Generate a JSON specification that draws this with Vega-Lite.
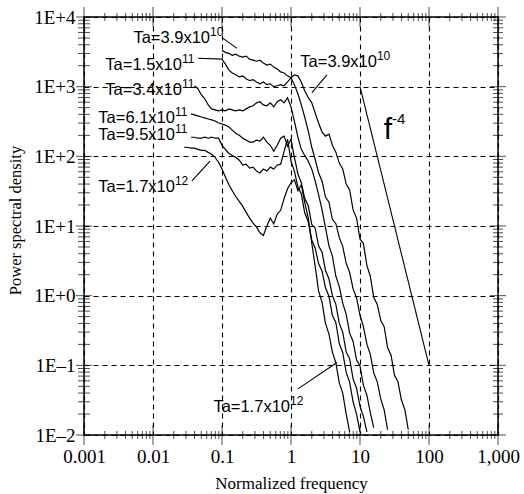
{
  "$schema": "https://vega.github.io/schema/vega-lite/v6.json",
  "width": 414,
  "height": 418,
  "autosize": {"type": "none"},
  "padding": {"left": 84, "top": 17, "right": 26, "bottom": 59},
  "background": "white",
  "config": {
    "view": {"stroke": "black", "strokeWidth": 1.5},
    "axis": {
      "domainColor": "black", "domainWidth": 1.5, "tickColor": "black", "tickWidth": 1,
      "labelColor": "black", "titleColor": "black",
      "labelFont": "Liberation Serif", "labelFontSize": 19,
      "titleFont": "Liberation Serif", "titleFontSize": 17, "titleFontWeight": "normal"
    },
    "tick": {"thickness": 1, "color": "black"}
  },
  "datasets": {
    "curves": [
      {"s":"A","x":0.1,"y":3320},{"s":"A","x":0.112,"y":3110},{"s":"A","x":0.126,"y":3010},{"s":"A","x":0.141,"y":2820},{"s":"A","x":0.158,"y":2920},{"s":"A","x":0.178,"y":2740},{"s":"A","x":0.2,"y":2650},{"s":"A","x":0.224,"y":2740},{"s":"A","x":0.251,"y":2480},{"s":"A","x":0.282,"y":2400},{"s":"A","x":0.316,"y":2320},{"s":"A","x":0.355,"y":2400},{"s":"A","x":0.398,"y":2180},{"s":"A","x":0.447,"y":2040},{"s":"A","x":0.501,"y":2110},{"s":"A","x":0.562,"y":1910},{"s":"A","x":0.631,"y":1790},{"s":"A","x":0.708,"y":1630},{"s":"A","x":0.794,"y":1570},{"s":"A","x":0.891,"y":1430},{"s":"A","x":1,"y":1340},{"s":"A","x":1.12,"y":1480},{"s":"A","x":1.26,"y":1430},{"s":"A","x":1.41,"y":1170},{"s":"A","x":1.58,"y":875},{"s":"A","x":1.78,"y":693},{"s":"A","x":2.0,"y":586},{"s":"A","x":2.24,"y":420},{"s":"A","x":2.51,"y":301},{"s":"A","x":2.82,"y":223},{"s":"A","x":3.16,"y":195},{"s":"A","x":3.55,"y":208},{"s":"A","x":3.98,"y":144},{"s":"A","x":4.47,"y":115},{"s":"A","x":5.01,"y":80},{"s":"A","x":5.62,"y":66},{"s":"A","x":6.31,"y":40},{"s":"A","x":7.08,"y":33},{"s":"A","x":7.94,"y":17},{"s":"A","x":8.91,"y":13},{"s":"A","x":10,"y":6.5},{"s":"A","x":11.2,"y":5.6},{"s":"A","x":12.6,"y":2.7},{"s":"A","x":14.1,"y":1.9},{"s":"A","x":15.8,"y":0.95},{"s":"A","x":17.8,"y":0.75},{"s":"A","x":20,"y":0.44},{"s":"A","x":22.4,"y":0.36},{"s":"A","x":25.1,"y":0.18},{"s":"A","x":28.2,"y":0.14},{"s":"A","x":31.6,"y":0.072},{"s":"A","x":35.5,"y":0.058},{"s":"A","x":39.8,"y":0.032},{"s":"A","x":44.7,"y":0.023},{"s":"A","x":50.1,"y":0.0119},
      {"s":"B","x":0.0449,"y":2560},{"s":"B","x":0.1,"y":2480},{"s":"B","x":0.112,"y":2110},{"s":"B","x":0.126,"y":1730},{"s":"B","x":0.141,"y":1570},{"s":"B","x":0.158,"y":1480},{"s":"B","x":0.178,"y":1380},{"s":"B","x":0.2,"y":1430},{"s":"B","x":0.224,"y":1300},{"s":"B","x":0.251,"y":1220},{"s":"B","x":0.282,"y":1260},{"s":"B","x":0.316,"y":1170},{"s":"B","x":0.355,"y":1100},{"s":"B","x":0.398,"y":1170},{"s":"B","x":0.447,"y":1070},{"s":"B","x":0.501,"y":1100},{"s":"B","x":0.562,"y":1000},{"s":"B","x":0.631,"y":1030},{"s":"B","x":0.708,"y":1070},{"s":"B","x":0.794,"y":1030},{"s":"B","x":0.891,"y":1170},{"s":"B","x":1,"y":1340},{"s":"B","x":1.12,"y":1070},{"s":"B","x":1.26,"y":792},{"s":"B","x":1.41,"y":548},{"s":"B","x":1.58,"y":367},{"s":"B","x":1.78,"y":230},{"s":"B","x":2.0,"y":135},{"s":"B","x":2.24,"y":90.8},{"s":"B","x":2.51,"y":58},{"s":"B","x":2.82,"y":44},{"s":"B","x":3.16,"y":26},{"s":"B","x":3.55,"y":22},{"s":"B","x":3.98,"y":12.5},{"s":"B","x":4.47,"y":10.8},{"s":"B","x":5.01,"y":6.8},{"s":"B","x":5.62,"y":5.1},{"s":"B","x":6.31,"y":2.9},{"s":"B","x":7.08,"y":2.15},{"s":"B","x":7.94,"y":1.25},{"s":"B","x":8.91,"y":0.93},{"s":"B","x":10,"y":0.52},{"s":"B","x":11.2,"y":0.36},{"s":"B","x":12.6,"y":0.2},{"s":"B","x":14.1,"y":0.145},{"s":"B","x":15.8,"y":0.078},{"s":"B","x":17.8,"y":0.058},{"s":"B","x":20,"y":0.033},{"s":"B","x":22.4,"y":0.023},{"s":"B","x":25.1,"y":0.0119},
      {"s":"C","x":0.0398,"y":1030},{"s":"C","x":0.0447,"y":936},{"s":"C","x":0.0501,"y":766},{"s":"C","x":0.0562,"y":670},{"s":"C","x":0.0631,"y":548},{"s":"C","x":0.0708,"y":480},{"s":"C","x":0.0794,"y":464},{"s":"C","x":0.0891,"y":449},{"s":"C","x":0.1,"y":464},{"s":"C","x":0.112,"y":449},{"s":"C","x":0.126,"y":480},{"s":"C","x":0.141,"y":464},{"s":"C","x":0.158,"y":449},{"s":"C","x":0.178,"y":464},{"s":"C","x":0.2,"y":449},{"s":"C","x":0.224,"y":480},{"s":"C","x":0.251,"y":513},{"s":"C","x":0.282,"y":531},{"s":"C","x":0.316,"y":586},{"s":"C","x":0.355,"y":607},{"s":"C","x":0.398,"y":548},{"s":"C","x":0.447,"y":531},{"s":"C","x":0.501,"y":586},{"s":"C","x":0.562,"y":513},{"s":"C","x":0.631,"y":607},{"s":"C","x":0.708,"y":649},{"s":"C","x":0.794,"y":586},{"s":"C","x":0.891,"y":693},{"s":"C","x":1,"y":513},{"s":"C","x":1.12,"y":321},{"s":"C","x":1.26,"y":188},{"s":"C","x":1.41,"y":126},{"s":"C","x":1.58,"y":103},{"s":"C","x":1.78,"y":85.1},{"s":"C","x":2.0,"y":65.6},{"s":"C","x":2.24,"y":44.5},{"s":"C","x":2.51,"y":28.2},{"s":"C","x":2.82,"y":17},{"s":"C","x":3.16,"y":9.5},{"s":"C","x":3.55,"y":5.2},{"s":"C","x":3.98,"y":3.7},{"s":"C","x":4.47,"y":1.9},{"s":"C","x":5.01,"y":1.35},{"s":"C","x":5.62,"y":0.78},{"s":"C","x":6.31,"y":0.54},{"s":"C","x":7.08,"y":0.29},{"s":"C","x":7.94,"y":0.22},{"s":"C","x":8.91,"y":0.12},{"s":"C","x":10,"y":0.098},{"s":"C","x":11.2,"y":0.052},{"s":"C","x":12.6,"y":0.037},{"s":"C","x":14.1,"y":0.021},{"s":"C","x":15.8,"y":0.0128},
      {"s":"D","x":0.0355,"y":406},{"s":"D","x":0.0398,"y":393},{"s":"D","x":0.0447,"y":380},{"s":"D","x":0.0501,"y":367},{"s":"D","x":0.0562,"y":356},{"s":"D","x":0.0631,"y":344},{"s":"D","x":0.0708,"y":333},{"s":"D","x":0.0794,"y":321},{"s":"D","x":0.0891,"y":301},{"s":"D","x":0.1,"y":291},{"s":"D","x":0.112,"y":281},{"s":"D","x":0.126,"y":263},{"s":"D","x":0.141,"y":238},{"s":"D","x":0.158,"y":215},{"s":"D","x":0.178,"y":201},{"s":"D","x":0.2,"y":182},{"s":"D","x":0.224,"y":171},{"s":"D","x":0.251,"y":160},{"s":"D","x":0.282,"y":160},{"s":"D","x":0.316,"y":171},{"s":"D","x":0.355,"y":165},{"s":"D","x":0.398,"y":188},{"s":"D","x":0.447,"y":160},{"s":"D","x":0.501,"y":144},{"s":"D","x":0.562,"y":118},{"s":"D","x":0.631,"y":144},{"s":"D","x":0.708,"y":182},{"s":"D","x":0.794,"y":195},{"s":"D","x":0.891,"y":140},{"s":"D","x":1,"y":176},{"s":"D","x":1.12,"y":96.8},{"s":"D","x":1.26,"y":55.7},{"s":"D","x":1.41,"y":42},{"s":"D","x":1.58,"y":25},{"s":"D","x":1.78,"y":19.5},{"s":"D","x":2.0,"y":10.5},{"s":"D","x":2.24,"y":9.3},{"s":"D","x":2.51,"y":5.2},{"s":"D","x":2.82,"y":4.2},{"s":"D","x":3.16,"y":2.3},{"s":"D","x":3.55,"y":1.75},{"s":"D","x":3.98,"y":1.0},{"s":"D","x":4.47,"y":0.75},{"s":"D","x":5.01,"y":0.4},{"s":"D","x":5.62,"y":0.3},{"s":"D","x":6.31,"y":0.155},{"s":"D","x":7.08,"y":0.125},{"s":"D","x":7.94,"y":0.064},{"s":"D","x":8.91,"y":0.047},{"s":"D","x":10,"y":0.026},{"s":"D","x":11.2,"y":0.0185},{"s":"D","x":12.6,"y":0.0111},
      {"s":"E","x":0.0355,"y":188},{"s":"E","x":0.0398,"y":188},{"s":"E","x":0.0447,"y":182},{"s":"E","x":0.0501,"y":182},{"s":"E","x":0.0562,"y":188},{"s":"E","x":0.0631,"y":182},{"s":"E","x":0.0708,"y":188},{"s":"E","x":0.0794,"y":182},{"s":"E","x":0.0891,"y":182},{"s":"E","x":0.1,"y":144},{"s":"E","x":0.112,"y":126},{"s":"E","x":0.126,"y":110},{"s":"E","x":0.141,"y":103},{"s":"E","x":0.158,"y":96.8},{"s":"E","x":0.178,"y":87.9},{"s":"E","x":0.2,"y":74.7},{"s":"E","x":0.224,"y":77.1},{"s":"E","x":0.251,"y":67.8},{"s":"E","x":0.282,"y":70.0},{"s":"E","x":0.316,"y":61.5},{"s":"E","x":0.355,"y":57.7},{"s":"E","x":0.398,"y":65.6},{"s":"E","x":0.447,"y":61.5},{"s":"E","x":0.501,"y":70.0},{"s":"E","x":0.562,"y":65.6},{"s":"E","x":0.631,"y":74.7},{"s":"E","x":0.708,"y":77.1},{"s":"E","x":0.794,"y":118},{"s":"E","x":0.891,"y":176},{"s":"E","x":1,"y":85.1},{"s":"E","x":1.12,"y":61.5},{"s":"E","x":1.26,"y":36},{"s":"E","x":1.41,"y":29},{"s":"E","x":1.58,"y":15.5},{"s":"E","x":1.78,"y":11.5},{"s":"E","x":2.0,"y":6.3},{"s":"E","x":2.24,"y":4.8},{"s":"E","x":2.51,"y":2.9},{"s":"E","x":2.82,"y":2.25},{"s":"E","x":3.16,"y":1.3},{"s":"E","x":3.55,"y":0.98},{"s":"E","x":3.98,"y":0.52},{"s":"E","x":4.47,"y":0.41},{"s":"E","x":5.01,"y":0.205},{"s":"E","x":5.62,"y":0.152},{"s":"E","x":6.31,"y":0.079},{"s":"E","x":7.08,"y":0.057},{"s":"E","x":7.94,"y":0.03},{"s":"E","x":8.91,"y":0.02},{"s":"E","x":10,"y":0.0111},
      {"s":"F","x":0.0282,"y":135},{"s":"F","x":0.0316,"y":135},{"s":"F","x":0.0355,"y":131},{"s":"F","x":0.0398,"y":131},{"s":"F","x":0.0447,"y":126},{"s":"F","x":0.0501,"y":122},{"s":"F","x":0.0562,"y":122},{"s":"F","x":0.0631,"y":114},{"s":"F","x":0.0708,"y":107},{"s":"F","x":0.0794,"y":96.8},{"s":"F","x":0.0891,"y":82.2},{"s":"F","x":0.1,"y":65.6},{"s":"F","x":0.112,"y":50.6},{"s":"F","x":0.126,"y":39.1},{"s":"F","x":0.141,"y":32.1},{"s":"F","x":0.158,"y":26.5},{"s":"F","x":0.178,"y":22.5},{"s":"F","x":0.2,"y":19.1},{"s":"F","x":0.224,"y":15.7},{"s":"F","x":0.251,"y":13.0},{"s":"F","x":0.282,"y":11.0},{"s":"F","x":0.316,"y":9.69},{"s":"F","x":0.355,"y":8.0},{"s":"F","x":0.398,"y":7.3},{"s":"F","x":0.447,"y":10.0},{"s":"F","x":0.501,"y":13.0},{"s":"F","x":0.562,"y":10.7},{"s":"F","x":0.631,"y":14.8},{"s":"F","x":0.708,"y":16.8},{"s":"F","x":0.794,"y":24.8},{"s":"F","x":0.891,"y":34.3},{"s":"F","x":1,"y":41.7},{"s":"F","x":1.12,"y":45.9},{"s":"F","x":1.26,"y":32.1},{"s":"F","x":1.41,"y":39.1},{"s":"F","x":1.58,"y":21.8},{"s":"F","x":1.78,"y":13.0},{"s":"F","x":2.0,"y":5.66},{"s":"F","x":2.24,"y":2.66},{"s":"F","x":2.51,"y":1.17},{"s":"F","x":2.82,"y":0.8},{"s":"F","x":3.16,"y":0.4},{"s":"F","x":3.55,"y":0.28},{"s":"F","x":3.98,"y":0.155},{"s":"F","x":4.47,"y":0.108},{"s":"F","x":5.01,"y":0.056},{"s":"F","x":5.62,"y":0.04},{"s":"F","x":6.31,"y":0.02},{"s":"F","x":7.08,"y":0.0111}
    ],
    "slope": [{"x":10,"y":1000},{"x":100,"y":0.1}],
    "leaders": [
      {"x":0.1,"y":5060,"x2":0.165,"y2":3540},
      {"x":0.0367,"y":44.5,"x2":0.067,"y2":85.1},
      {"x":1.26,"y":0.0459,"x2":4.64,"y2":0.11},
      {"x":3.32,"y":1480,"x2":2.01,"y2":819}
    ],
    "labels": [
      {"x":0.067,"y":4980,"base":"Ta=3.9x10","exp":"10"},
      {"x":0.0263,"y":2040,"base":"Ta=1.5x10","exp":"11"},
      {"x":0.0263,"y":905,"base":"Ta=3.4x10","exp":"11"},
      {"x":0.0208,"y":356,"base":"Ta=6.1x10","exp":"11"},
      {"x":0.0208,"y":201,"base":"Ta=9.5x10","exp":"11"},
      {"x":0.0208,"y":36.6,"base":"Ta=1.7x10","exp":"12"},
      {"x":17.6,"y":2250,"base":"Ta=3.9x10","exp":"10"},
      {"x":0.967,"y":0.0251,"base":"Ta=1.7x10","exp":"12"}
    ],
    "flabel": [{"x":29.1,"y":176,"base":"f","exp":"-4"}],
    "xmajor": [{"v":0.001},{"v":0.01},{"v":0.1},{"v":1},{"v":10},{"v":100},{"v":1000}],
    "xminor": [{"v":0.002},{"v":0.003},{"v":0.004},{"v":0.005},{"v":0.006},{"v":0.007},{"v":0.008},{"v":0.009},{"v":0.02},{"v":0.03},{"v":0.04},{"v":0.05},{"v":0.06},{"v":0.07},{"v":0.08},{"v":0.09},{"v":0.2},{"v":0.3},{"v":0.4},{"v":0.5},{"v":0.6},{"v":0.7},{"v":0.8},{"v":0.9},{"v":2},{"v":3},{"v":4},{"v":5},{"v":6},{"v":7},{"v":8},{"v":9},{"v":20},{"v":30},{"v":40},{"v":50},{"v":60},{"v":70},{"v":80},{"v":90},{"v":200},{"v":300},{"v":400},{"v":500},{"v":600},{"v":700},{"v":800},{"v":900}],
    "ymajor": [{"v":0.01},{"v":0.1},{"v":1},{"v":10},{"v":100},{"v":1000},{"v":10000}],
    "yminor": [{"v":0.02},{"v":0.03},{"v":0.04},{"v":0.05},{"v":0.06},{"v":0.07},{"v":0.08},{"v":0.09},{"v":0.2},{"v":0.3},{"v":0.4},{"v":0.5},{"v":0.6},{"v":0.7},{"v":0.8},{"v":0.9},{"v":2},{"v":3},{"v":4},{"v":5},{"v":6},{"v":7},{"v":8},{"v":9},{"v":20},{"v":30},{"v":40},{"v":50},{"v":60},{"v":70},{"v":80},{"v":90},{"v":200},{"v":300},{"v":400},{"v":500},{"v":600},{"v":700},{"v":800},{"v":900},{"v":2000},{"v":3000},{"v":4000},{"v":5000},{"v":6000},{"v":7000},{"v":8000},{"v":9000}]
  },
  "layer": [
    {
      "data": {"name": "curves"},
      "mark": {"type": "line", "color": "black", "strokeWidth": 1.2, "clip": true},
      "encoding": {
        "x": {"field": "x", "type": "quantitative",
          "scale": {"type": "log", "domain": [0.001, 1000], "nice": false},
          "axis": {"orient": "bottom", "title": "Normalized frequency", "titlePadding": 9,
            "values": [0.001,0.01,0.1,1,10,100,1000],
            "labelExpr": "format(datum.value, ',')",
            "labelOverlap": false, "labelFlush": false, "labelBound": false, "labelPadding": 12,
            "ticks": false, "domain": false,
            "grid": true, "gridColor": "black", "gridDash": [5, 4], "gridWidth": 1.1
          }
        },
        "y": {"field": "y", "type": "quantitative",
          "scale": {"type": "log", "domain": [0.01, 10000], "nice": false},
          "axis": {"orient": "left", "title": "Power spectral density", "titleFontSize": 16.5, "titlePadding": 10, "titleY": 203,
            "values": [0.01,0.1,1,10,100,1000,10000],
            "labelExpr": "'1E' + (datum.value >= 1 ? '+' : '–') + abs(round(log(datum.value)/LN10))",
            "labelOverlap": false, "labelFlush": false, "labelBound": false, "labelPadding": 9,
            "ticks": false, "domain": false,
            "grid": true, "gridColor": "black", "gridDash": [5, 4], "gridWidth": 1.1
          }
        },
        "detail": {"field": "s"}
      }
    },
    {
      "data": {"name": "slope"},
      "mark": {"type": "line", "color": "black", "strokeWidth": 1.1},
      "encoding": {
        "x": {"field": "x", "type": "quantitative"},
        "y": {"field": "y", "type": "quantitative"}
      }
    },
    {
      "data": {"name": "leaders"},
      "mark": {"type": "rule", "color": "black", "strokeWidth": 1.1},
      "encoding": {
        "x": {"field": "x", "type": "quantitative"},
        "y": {"field": "y", "type": "quantitative"},
        "x2": {"field": "x2"},
        "y2": {"field": "y2"}
      }
    },
    {
      "data": {"name": "xminor"},
      "mark": {"type": "tick", "orient": "vertical", "size": 8},
      "encoding": {
        "x": {"field": "v", "type": "quantitative"},
        "y": {"datum": 0.01, "type": "quantitative"}
      }
    },
    {
      "data": {"name": "xminor"},
      "mark": {"type": "tick", "orient": "vertical", "size": 8},
      "encoding": {
        "x": {"field": "v", "type": "quantitative"},
        "y": {"datum": 10000, "type": "quantitative"}
      }
    },
    {
      "data": {"name": "xmajor"},
      "mark": {"type": "tick", "orient": "vertical", "size": 20},
      "encoding": {
        "x": {"field": "v", "type": "quantitative"},
        "y": {"datum": 0.01, "type": "quantitative"}
      }
    },
    {
      "data": {"name": "xmajor"},
      "mark": {"type": "tick", "orient": "vertical", "size": 20},
      "encoding": {
        "x": {"field": "v", "type": "quantitative"},
        "y": {"datum": 10000, "type": "quantitative"}
      }
    },
    {
      "data": {"name": "yminor"},
      "mark": {"type": "tick", "orient": "horizontal", "size": 12},
      "encoding": {
        "y": {"field": "v", "type": "quantitative"},
        "x": {"datum": 0.001, "type": "quantitative"}
      }
    },
    {
      "data": {"name": "yminor"},
      "mark": {"type": "tick", "orient": "horizontal", "size": 10},
      "encoding": {
        "y": {"field": "v", "type": "quantitative"},
        "x": {"datum": 1000, "type": "quantitative"}
      }
    },
    {
      "data": {"name": "ymajor"},
      "mark": {"type": "tick", "orient": "horizontal", "size": 16},
      "encoding": {
        "y": {"field": "v", "type": "quantitative"},
        "x": {"datum": 0.001, "type": "quantitative"}
      }
    },
    {
      "data": {"name": "ymajor"},
      "mark": {"type": "tick", "orient": "horizontal", "size": 16},
      "encoding": {
        "y": {"field": "v", "type": "quantitative"},
        "x": {"datum": 1000, "type": "quantitative"}
      }
    },
    {
      "data": {"name": "labels"},
      "mark": {"type": "text", "align": "right", "baseline": "middle", "font": "Liberation Sans", "fontSize": 16.5, "color": "black"},
      "encoding": {
        "x": {"field": "x", "type": "quantitative"},
        "y": {"field": "y", "type": "quantitative"},
        "text": {"field": "base"}
      }
    },
    {
      "data": {"name": "labels"},
      "mark": {"type": "text", "align": "left", "baseline": "middle", "dy": -6, "font": "Liberation Sans", "fontSize": 12, "color": "black"},
      "encoding": {
        "x": {"field": "x", "type": "quantitative"},
        "y": {"field": "y", "type": "quantitative"},
        "text": {"field": "exp"}
      }
    },
    {
      "data": {"name": "flabel"},
      "mark": {"type": "text", "align": "right", "baseline": "alphabetic", "font": "Liberation Sans", "fontSize": 30, "color": "black"},
      "encoding": {
        "x": {"field": "x", "type": "quantitative"},
        "y": {"field": "y", "type": "quantitative"},
        "text": {"field": "base"}
      }
    },
    {
      "data": {"name": "flabel"},
      "mark": {"type": "text", "align": "left", "baseline": "alphabetic", "dy": -15, "font": "Liberation Sans", "fontSize": 15, "color": "black"},
      "encoding": {
        "x": {"field": "x", "type": "quantitative"},
        "y": {"field": "y", "type": "quantitative"},
        "text": {"field": "exp"}
      }
    }
  ]
}
